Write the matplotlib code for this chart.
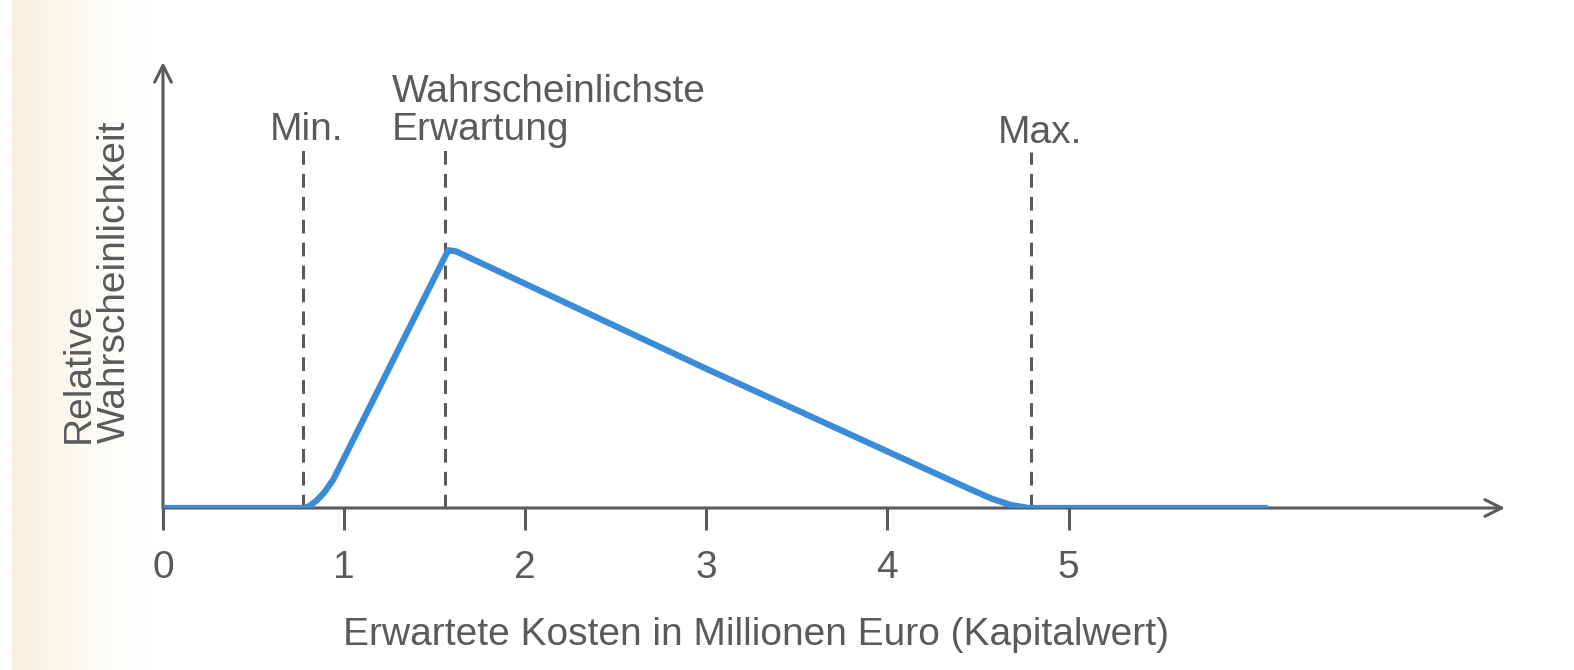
import numpy as np
import matplotlib.pyplot as plt
from matplotlib.colors import LinearSegmentedColormap

plt.rcParams['font.family'] = ['Liberation Sans', 'DejaVu Sans']

# curve (relative probability over expected cost, Mio. EUR)
cost = [0, 0.78, 0.81, 0.85, 0.89, 0.94, 1.575, 1.62, 3.0, 4.45, 4.58, 4.68, 4.78, 6.1]
prob = [0, 0, 0.008, 0.03, 0.06, 0.11, 1.0, 0.995, 0.54, 0.075, 0.035, 0.012, 0, 0]

# marker lines
marks = [0.773, 1.558, 4.79]
mark_tops = [1.40, 1.40, 1.38]

ticks = [0, 1, 2, 3, 4, 5]
tick_labels = ['0', '1', '2', '3', '4', '5']

gray = '#5a5a5a'
blue = '#3a8bd8'
fs = 28

fig = plt.figure(figsize=(15.74, 6.70), dpi=100)

# scanned paper edge on the left
bg = fig.add_axes([12 / 1574, 0, 140 / 1574, 1])
grad = np.linspace(1, 0, 100) ** 1.5
bg.imshow(grad[None, :], aspect='auto', extent=[0, 1, 0, 1],
          cmap=LinearSegmentedColormap.from_list('paper', ['#ffffff', '#f6f0dc']))
bg.axis('off')

ax = fig.add_axes([163 / 1574, (670 - 508) / 670, (1505 - 163) / 1574, (508 - 62) / 670])
ax.set_xlim(0, 7.41)
ax.set_ylim(0, 1.73)
ax.patch.set_alpha(0)
for s in ax.spines.values():
    s.set_visible(False)

# axes with open arrows
ax.annotate('', xy=(7.41, 0), xytext=(0, 0),
            arrowprops=dict(arrowstyle='->', color=gray, lw=2.2, mutation_scale=30,
                            shrinkA=0, shrinkB=0), annotation_clip=False)
ax.annotate('', xy=(0, 1.73), xytext=(0, 0),
            arrowprops=dict(arrowstyle='->', color=gray, lw=2.2, mutation_scale=30,
                            shrinkA=0, shrinkB=0), annotation_clip=False)

ax.set_xticks(ticks)
ax.set_xticklabels(tick_labels)
ax.set_yticks([])
ax.tick_params(axis='x', length=16, width=2.2, color=gray, labelcolor=gray,
               labelsize=fs, pad=14)

for m, t in zip(marks, mark_tops):
    ax.plot([m, m], [0, t], color=gray, lw=2.2, dashes=(4.5, 3))

ax.plot(cost, prob, color=blue, lw=4.5, solid_capstyle='butt', solid_joinstyle='round',
        zorder=5)

ax.text(0.79, 1.426, 'Min.', ha='center', va='baseline', fontsize=fs, color=gray)
ax.text(4.84, 1.415, 'Max.', ha='center', va='baseline', fontsize=fs, color=gray)
ax.text(1.265, 1.426, 'Wahrscheinlichste\nErwartung', ha='left', va='baseline',
        fontsize=fs, color=gray, linespacing=1.08)

fig.text(756 / 1574, 1 - 645 / 670, 'Erwartete Kosten in Millionen Euro (Kapitalwert)',
         ha='center', va='baseline', fontsize=fs, color=gray)
fig.text(97 / 1574, 1 - 282 / 670, 'Relative\nWahrscheinlichkeit', rotation=90,
         ha='center', va='center', fontsize=fs, color=gray, multialignment='left',
         linespacing=1.0)

fig.savefig('out.png', dpi=100)
